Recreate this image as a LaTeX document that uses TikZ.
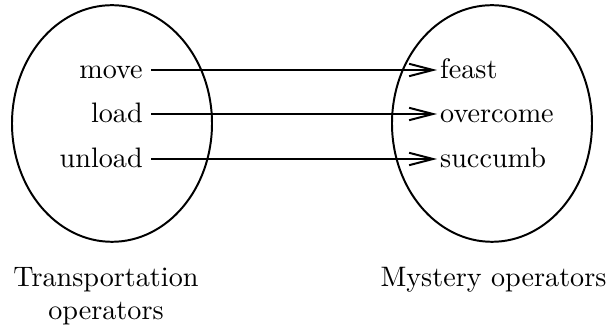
\documentclass[tikz,border=0pt]{standalone}
\usetikzlibrary{shapes.geometric,arrows.meta}
\begin{document}
\begin{tikzpicture}[x=0.355pt,y=-0.355pt, line width=0.7pt,
        opset/.style={draw, ellipse, minimum width=71pt, minimum height=84pt, inner sep=0pt},
        leftop/.style={anchor=east, inner xsep=2.6pt, inner ysep=0pt, text height=1.7ex, text depth=.25ex},
        rightop/.style={anchor=west, inner xsep=0.8pt, inner ysep=0pt, text height=1.7ex, text depth=.25ex},
        setlabel/.style={anchor=north, align=center, inner sep=0pt, font=\fontsize{10}{11.7}\selectfont},
        maparrow/.style={-{Straight Barb[length=8.5pt,width=4.4pt]}}]
        % Fix the margins
        \useasboundingbox (0,0) rectangle (607,333);

        % Draw the two sets of operators
        \node[opset] (transport) at (112,123.5) {};
        \node[opset] (mystery) at (492,123.5) {};

        % Transportation operators (left set)
        \node[leftop] (move) at (151,70) {move};
        \node[leftop] (load) at (151,114) {load};
        \node[leftop] (unload) at (151,159) {unload};

        % Mystery operators (right set)
        \node[rightop] (feast) at (437,70) {feast};
        \node[rightop] (overcome) at (437,114) {overcome};
        \node[rightop] (succumb) at (437,159) {succumb};

        % Draw the mapping arrows
        \draw[maparrow] (move) -- (feast);
        \draw[maparrow] (load) -- (overcome);
        \draw[maparrow] (unload) -- (succumb);

        % Add set labels
        \node[setlabel] (transportlabel) at (106,266) {Transportation\\operators};
        \node[setlabel] (mysterylabel) at (493.5,266) {Mystery operators};
    \end{tikzpicture}
\end{document}
